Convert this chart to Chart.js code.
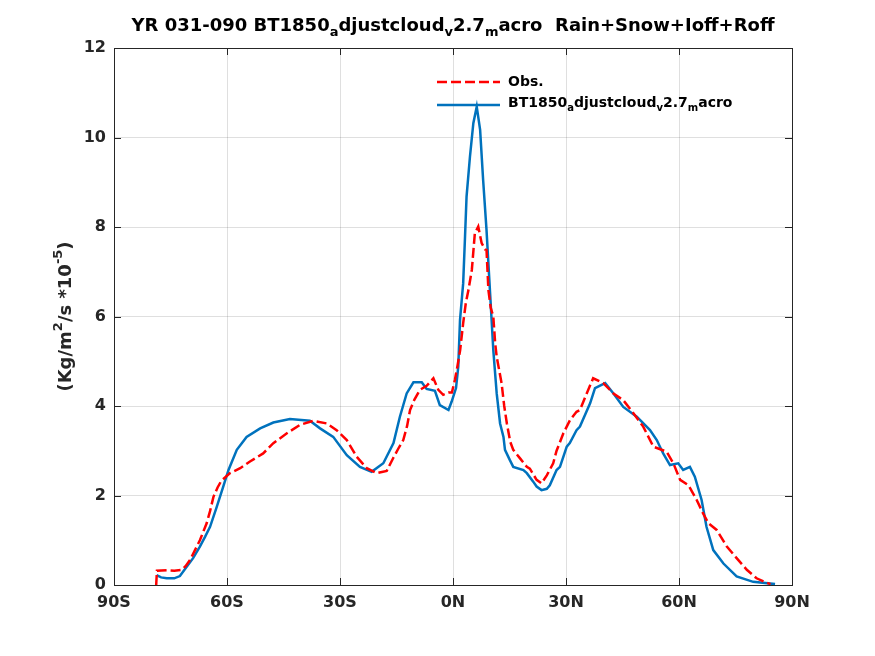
<!DOCTYPE html>
<html>
<head>
<meta charset="utf-8">
<script src="https://cdn.jsdelivr.net/npm/chart.js@4.4.1/dist/chart.umd.min.js"></script>
<style>
  html, body { margin: 0; padding: 0; background: #fff; }
  #wrap { width: 875px; height: 656px; }
</style>
</head>
<body>
<div id="wrap"><canvas id="precipChart" width="875" height="656"></canvas></div>
<script>
// latitude (deg) and precip (Kg/m2/s *1e-5)
const obsLat = [-78.8, -78.6, -76, -74, -72, -71, -69.8, -68.5, -67.2, -65.4, -64.5, -63.6, -62.5, -61.5,
    -59.2, -56.5, -53.9, -50.4, -47.7, -44.1, -40.6, -37.1, -33.5, -30.9, -28.2, -25.6, -22.9, -20.3,
    -17.6, -15.8, -14.5, -13.2, -12.2, -11.4, -10.2, -8.8, -7, -5.2, -3.9, -2.6, -1.2, -0.3, 0.5, 1.2,
    1.9, 2.7, 3.4, 4.1, 5.0, 5.8, 6.7, 7.6, 8.5, 8.9, 9.4, 10.0, 10.7, 11.2, 11.6, 12.9, 13.6, 14.3,
    15.2, 16.0, 17.8, 19.6, 20.4, 22.2, 23.5, 24.9, 26.6, 27.5, 29.3, 31.1, 32.8, 33.7, 35.5, 37.2,
    39.9, 42.6, 45.2, 47.9, 50.5, 53.2, 56.7, 58.5, 60.3, 62.5, 64.7, 66.4, 67.8, 70, 72.7, 75.3, 78,
    80.6, 83.3, 84.3];
const obsVal = [0, 0.32, 0.33, 0.32, 0.34, 0.42, 0.56, 0.78, 1.0, 1.38, 1.65, 1.97, 2.18, 2.33,
    2.5, 2.61, 2.76, 2.94, 3.17, 3.39, 3.58, 3.67, 3.61, 3.46, 3.24, 2.87, 2.61, 2.5,
    2.55, 2.85, 3.05, 3.24, 3.55, 3.91, 4.15, 4.36, 4.45, 4.62, 4.36, 4.25, 4.3, 4.3, 4.58, 4.9,
    5.25, 5.85, 6.3, 6.59, 7.04, 7.86, 8.01, 7.64, 7.5, 7.49, 6.59, 6.2, 6.0, 5.4, 5.1, 4.51, 4.0, 3.61,
    3.2, 3.02, 2.83, 2.64, 2.6, 2.35, 2.27, 2.45, 2.72, 3.0, 3.39, 3.69, 3.87, 3.91, 4.28, 4.62,
    4.51, 4.28, 4.13, 3.84, 3.54, 3.09, 2.98, 2.72, 2.35, 2.23, 1.9, 1.6, 1.38, 1.23, 0.86, 0.6, 0.34,
    0.15, 0.05, 0.02];

const modLat = [-78.7, -77.5, -76, -74, -72.5, -70.7, -69, -67.2, -65.8, -64.5, -62.7, -61.0, -59.6,
    -57.4, -54.8, -51.2, -47.7, -43.3, -38, -35.3, -31.8, -28.2, -24.7, -21.6, -18.5, -15.8, -14.1,
    -12.3, -10.5, -8.3, -7, -4.8, -3.5, -1.2, -0.35, 0.8, 1.4, 1.86, 2.7, 3.2, 3.6, 4.5, 5.4, 6.3,
    7.2, 8.0, 8.9, 9.8, 10.7, 11.6, 12.5, 13.4, 13.8, 15.1, 16, 18.7, 19.6, 21.3, 22.2, 23.5, 24.9,
    25.7, 27.5, 28.4, 30.2, 31, 32.8, 33.7, 36.4, 37.7, 40.4, 42.6, 45.2, 48.8, 52.3, 54.1, 55.8,
    57.6, 59.8, 61.1, 62.9, 64.2, 66, 67.3, 69.1, 71.8, 75.3, 79.7, 85.5];
const modVal = [0.22, 0.17, 0.15, 0.15, 0.2, 0.41, 0.6, 0.86, 1.08, 1.30, 1.75, 2.2, 2.57,
    3.02, 3.31, 3.50, 3.63, 3.71, 3.67, 3.50, 3.31, 2.9, 2.64, 2.53, 2.72, 3.17, 3.76,
    4.28, 4.53, 4.53, 4.38, 4.34, 4.02, 3.91, 4.10, 4.4, 4.88, 5.92, 6.74, 7.8, 8.68, 9.57, 10.32, 10.69,
    10.17, 9.05, 7.93, 6.59, 5.25, 4.28, 3.61, 3.31, 3.02, 2.79, 2.64, 2.57, 2.5, 2.31, 2.2, 2.12, 2.15,
    2.23, 2.57, 2.64, 3.09, 3.17, 3.46, 3.54, 4.06, 4.40, 4.51, 4.28, 3.98, 3.76, 3.46, 3.24, 2.94,
    2.68, 2.72, 2.57, 2.64, 2.42, 1.9, 1.30, 0.78, 0.48, 0.19, 0.07, 0.02];

const latTicks = [-90, -60, -30, 0, 30, 60, 90];
const latTickLabels = ['90S', '60S', '30S', '0N', '30N', '60N', '90N'];
const yTicks = [0, 2, 4, 6, 8, 10, 12];

const FONT = '"DejaVu Sans", sans-serif';
const INK = '#262626';
const OBS_DASH = [10, 4];

function toPoints(xs, ys) {
    return xs.map((x, i) => ({ x: x, y: ys[i] }));
}

// draw a run of [text, 'n'|'sub'|'sup'] pieces starting at x
function runWidth(ctx, parts, size) {
    let w = 0;
    for (const p of parts) {
        ctx.font = 'bold ' + (p[1] === 'n' ? size : Math.round(size * 0.72)) + 'px ' + FONT;
        w += ctx.measureText(p[0]).width;
    }
    return w;
}
function drawRun(ctx, parts, x, y, size) {
    for (const p of parts) {
        const s = p[1] === 'n' ? size : Math.round(size * 0.72);
        const dy = p[1] === 'sub' ? size * 0.38 : (p[1] === 'sup' ? -size * 0.42 : 0);
        ctx.font = 'bold ' + s + 'px ' + FONT;
        ctx.fillText(p[0], x, y + dy);
        x += ctx.measureText(p[0]).width;
    }
}

const titleParts = [['YR 031-090 BT1850', 'n'], ['a', 'sub'], ['djustcloud', 'n'], ['v', 'sub'],
    ['2.7', 'n'], ['m', 'sub'], ['acro  Rain+Snow+Ioff+Roff', 'n']];
const modelParts = [['BT1850', 'n'], ['a', 'sub'], ['djustcloud', 'n'], ['v', 'sub'],
    ['2.7', 'n'], ['m', 'sub'], ['acro', 'n']];
const ylabelParts = [['(Kg/m', 'n'], ['2', 'sup'], ['/s *10', 'n'], ['-5', 'sup'], [')', 'n']];

const decorations = {
    id: 'decorations',
    afterDraw(chart) {
        const ctx = chart.ctx;
        const a = chart.chartArea;
        const xs = chart.scales.x, ys = chart.scales.y;
        ctx.save();

        // box and inward ticks
        ctx.strokeStyle = INK;
        ctx.lineWidth = 1;
        ctx.strokeRect(a.left + 0.5, a.top + 0.5, a.right - a.left, a.bottom - a.top);
        ctx.beginPath();
        for (const t of latTicks) {
            const px = Math.round(xs.getPixelForValue(t)) + 0.5;
            ctx.moveTo(px, a.bottom); ctx.lineTo(px, a.bottom - 7);
            ctx.moveTo(px, a.top); ctx.lineTo(px, a.top + 7);
        }
        for (const t of yTicks) {
            const py = Math.round(ys.getPixelForValue(t)) + 0.5;
            ctx.moveTo(a.left, py); ctx.lineTo(a.left + 7, py);
            ctx.moveTo(a.right, py); ctx.lineTo(a.right - 7, py);
        }
        ctx.stroke();

        ctx.fillStyle = '#000';
        ctx.textBaseline = 'middle';
        ctx.textAlign = 'left';

        // title
        const tw = runWidth(ctx, titleParts, 18);
        drawRun(ctx, titleParts, (a.left + a.right) / 2 - tw / 2, 26, 18);

        // y label
        ctx.fillStyle = INK;
        ctx.translate(66, (a.top + a.bottom) / 2);
        ctx.rotate(-Math.PI / 2);
        const yw = runWidth(ctx, ylabelParts, 18);
        drawRun(ctx, ylabelParts, -yw / 2, 0, 18);
        ctx.setTransform(1, 0, 0, 1, 0, 0);
        ctx.scale(chart.currentDevicePixelRatio, chart.currentDevicePixelRatio);

        // legend
        ctx.lineWidth = 2.5;
        ctx.strokeStyle = '#ff0000';
        ctx.setLineDash(OBS_DASH);
        ctx.beginPath(); ctx.moveTo(437, 82); ctx.lineTo(500, 82); ctx.stroke();
        ctx.setLineDash([]);
        ctx.strokeStyle = '#0072BD';
        ctx.beginPath(); ctx.moveTo(437, 105); ctx.lineTo(500, 105); ctx.stroke();
        ctx.fillStyle = '#000';
        drawRun(ctx, [['Obs.', 'n']], 508, 82, 14);
        drawRun(ctx, modelParts, 508, 103, 14);

        ctx.restore();
    }
};

let ctx = document.getElementById('precipChart').getContext('2d');

let precipChart = new Chart(ctx, {
    type: 'line',
    data: {
        datasets: [{
            label: 'Obs.',
            data: toPoints(obsLat, obsVal),
            borderColor: '#ff0000',
            borderWidth: 2.5,
            borderDash: OBS_DASH,
            pointRadius: 0,
            tension: 0
        }, {
            label: 'BT1850_adjustcloud_v2.7_macro',
            data: toPoints(modLat, modVal),
            borderColor: '#0072BD',
            borderWidth: 2.5,
            pointRadius: 0,
            tension: 0
        }]
    },
    plugins: [decorations],
    options: {
        responsive: false,
        animation: false,
        layout: {
            padding: { left: 0, right: 83, top: 48, bottom: 31 }
        },
        plugins: {
            legend: { display: false },
            tooltip: { enabled: false }
        },
        scales: {
            x: {
                type: 'linear',
                min: -90,
                max: 90,
                afterBuildTicks: (scale) => { scale.ticks = latTicks.map(v => ({ value: v })); },
                afterFit: (scale) => { scale.height = 40; },
                ticks: {
                    callback: (v) => latTickLabels[latTicks.indexOf(v)],
                    color: INK,
                    font: { family: FONT, size: 16, weight: 'bold' },
                    padding: 8,
                    maxRotation: 0
                },
                grid: { color: 'rgba(38,38,38,0.15)', drawTicks: false },
                border: { display: false }
            },
            y: {
                min: 0,
                max: 12,
                afterBuildTicks: (scale) => { scale.ticks = yTicks.map(v => ({ value: v })); },
                afterFit: (scale) => { scale.width = 114; },
                ticks: {
                    color: INK,
                    font: { family: FONT, size: 16, weight: 'bold' },
                    padding: 8
                },
                grid: { color: 'rgba(38,38,38,0.15)', drawTicks: false },
                border: { display: false }
            }
        }
    }
});
</script>
</body>
</html>
